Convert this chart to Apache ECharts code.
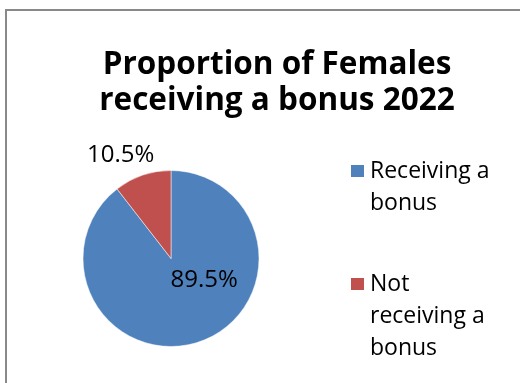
<!DOCTYPE html>
<html><head><meta charset="utf-8">
<script src="https://cdn.jsdelivr.net/npm/echarts@6/dist/echarts.min.js"></script>
<style>html,body{margin:0;padding:0;background:#fff}#c{width:520px;height:383px}</style>
</head><body><div id="c"></div>
<script>
const titleText = 'Proportion of Females\nreceiving a bonus 2022';
const categories = ['Receiving a bonus', 'Not receiving a bonus'];
const values = [89.5, 10.5];
const legendLabels = ['Receiving a\nbonus', 'Not\nreceiving a\nbonus'];
const colors = ['#4F81BD', '#C0504D'];

const FONT = '"Open Sans", "Liberation Sans", sans-serif';
const chart = echarts.init(document.getElementById('c'), null, {renderer: 'canvas'});

function padLabel(name) {
  const s = legendLabels[categories.indexOf(name)];
  const n = s.split('\n').length;
  return '\n'.repeat(n - 1) + s;
}

const legendText = {fontFamily: FONT, fontSize: 23, lineHeight: 32, color: '#000'};

chart.setOption({
  animation: false,
  color: colors,
  graphic: [{
    type: 'rect', silent: true, z: -1,
    shape: {x: 6, y: 10, width: 600, height: 500},
    style: {fill: 'none', stroke: '#898989', lineWidth: 2}
  }],
  title: {
    text: titleText,
    left: 272, top: 42, textAlign: 'center',
    textStyle: {fontFamily: FONT, fontWeight: 'bold', fontSize: 31.5, lineHeight: 36, color: '#000'}
  },
  legend: [
    {
      data: [categories[0]], orient: 'vertical', left: 344, top: 118,
      itemWidth: 15, itemHeight: 14, icon: 'rect', selectedMode: false,
      formatter: padLabel, textStyle: legendText
    },
    {
      data: [categories[1]], orient: 'vertical', left: 344, top: 199,
      itemWidth: 15, itemHeight: 14, icon: 'rect', selectedMode: false,
      formatter: padLabel, textStyle: legendText
    }
  ],
  series: [{
    type: 'pie',
    center: [171, 258.5],
    radius: 88,
    startAngle: 90,
    clockwise: true,
    silent: true,
    itemStyle: {borderColor: '#ffffff', borderWidth: 0.5},
    label: {
      show: true, position: 'inside',
      formatter: p => p.value.toFixed(1) + '%',
      fontFamily: FONT, fontSize: 24, color: '#000'
    },
    labelLine: {show: false},
    labelLayout: function (p) {
      return p.dataIndex === 0 ? {dx: 18, dy: -23} : {dx: -35, dy: -59};
    },
    data: categories.map((c, i) => ({name: c, value: values[i]}))
  }]
});
</script></body></html>
